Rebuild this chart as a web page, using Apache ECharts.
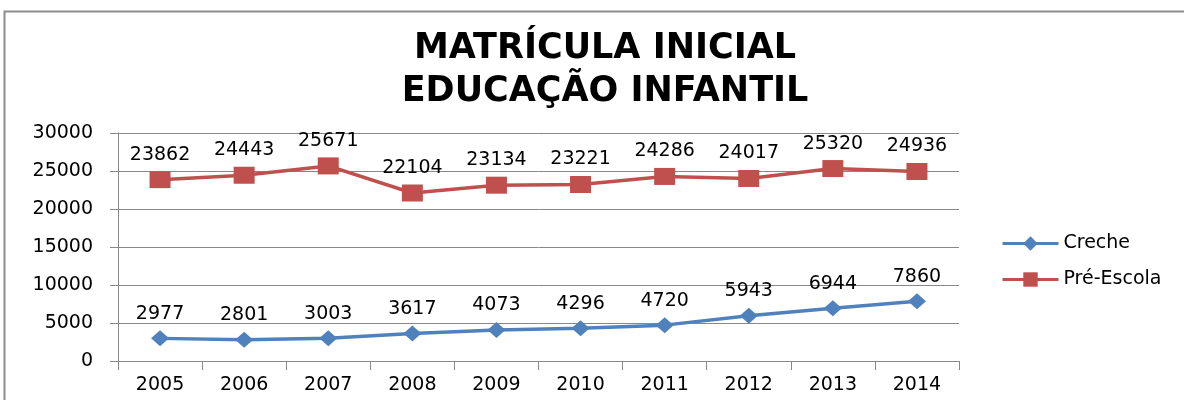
<!DOCTYPE html>
<html>
<head>
<meta charset="utf-8">
<script src="https://cdn.jsdelivr.net/npm/echarts@6/dist/echarts.min.js"></script>
<style>
  html, body { margin: 0; padding: 0; background: #fff; }
  #chart { width: 1184px; height: 400px; }
</style>
</head>
<body>
<div id="chart"></div>
<script>
  const anos = ['2005', '2006', '2007', '2008', '2009', '2010', '2011', '2012', '2013', '2014'];
  const creche = [2977, 2801, 3003, 3617, 4073, 4296, 4720, 5943, 6944, 7860];
  const preEscola = [23862, 24443, 25671, 22104, 23134, 23221, 24286, 24017, 25320, 24936];

  const chart = echarts.init(document.getElementById('chart'));
  const fonte = 'DejaVu Sans';

  chart.setOption({
    animation: false,
    title: {
      text: 'MATRÍCULA INICIAL\nEDUCAÇÃO INFANTIL',
      left: 600,
      textAlign: 'center',
      top: 22,
      textStyle: {
        fontFamily: 'DejaVu Sans',
        fontWeight: 'bold',
        fontSize: 35,
        lineHeight: 43,
        color: '#000'
      }
    },
    graphic: [{
      type: 'rect',
      shape: { x: 4.5, y: 11.5, width: 1200, height: 400 },
      style: { fill: 'none', stroke: '#8c8c8c', lineWidth: 2 },
      silent: true
    }],
    legend: {
      orient: 'vertical',
      left: 996,
      top: 229,
      itemWidth: 56,
      itemHeight: 18,
      itemGap: 17,
      lineStyle: { width: 3 },
      textStyle: { fontFamily: fonte, fontSize: 19, color: '#000' },
      data: ['Creche', 'Pré-Escola']
    },
    grid: { left: 118, right: 225, top: 133, bottom: 39 },
    xAxis: {
      type: 'category',
      data: anos,
      boundaryGap: true,
      axisLine: { lineStyle: { color: '#888' } },
      axisTick: { show: true, length: 9, lineStyle: { color: '#888' } },
      axisLabel: { fontFamily: fonte, fontSize: 19, color: '#000', margin: 15 }
    },
    yAxis: {
      type: 'value',
      min: 0,
      max: 30000,
      interval: 5000,
      axisLine: { show: true, lineStyle: { color: '#888' } },
      axisTick: { show: true, length: 8, lineStyle: { color: '#888' } },
      splitLine: { lineStyle: { color: '#888' } },
      axisLabel: { fontFamily: fonte, fontSize: 19, color: '#000', margin: 25, formatter: v => String(v) }
    },
    series: [{
      name: 'Creche',
      type: 'line',
      data: creche,
      symbol: 'diamond',
      symbolSize: [18, 16],
      itemStyle: { color: '#4F81BD' },
      lineStyle: { color: '#4F81BD', width: 3.5 },
      label: {
        show: true,
        position: 'top',
        distance: 7,
        fontFamily: fonte,
        fontSize: 19,
        color: '#000'
      }
    }, {
      name: 'Pré-Escola',
      type: 'line',
      data: preEscola,
      symbol: 'rect',
      symbolSize: [21, 17],
      itemStyle: { color: '#C0504D' },
      lineStyle: { color: '#C0504D', width: 3.5 },
      label: {
        show: true,
        position: 'top',
        distance: 7,
        fontFamily: fonte,
        fontSize: 19,
        color: '#000'
      }
    }]
  });
</script>
</body>
</html>
